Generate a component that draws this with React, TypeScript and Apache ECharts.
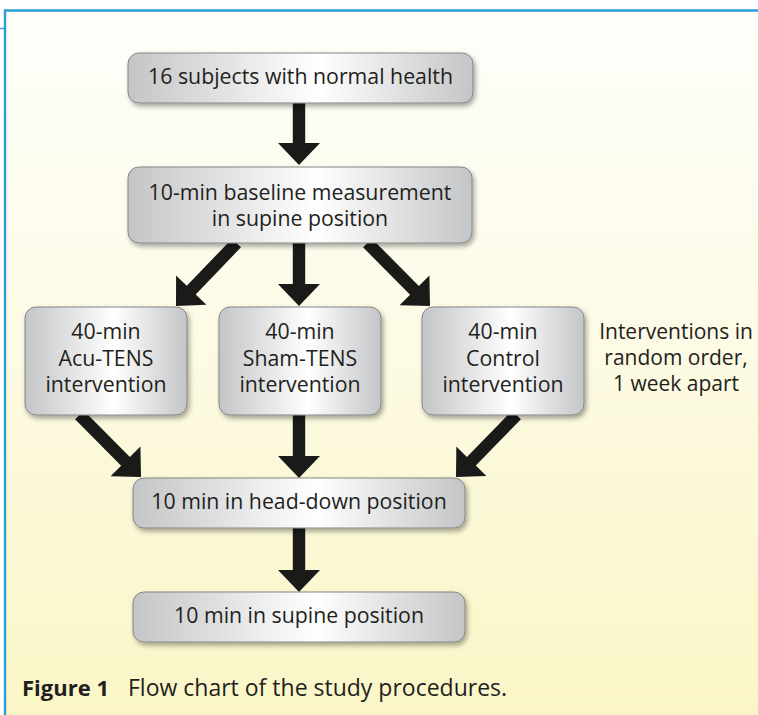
import React, { useEffect, useRef } from "react";
import * as echarts from "echarts";

// ---- content ----
const boxLabels: string[][] = [
  ["16 subjects with normal health"],
  ["10-min baseline measurement", "in supine position"],
  ["40-min", "Acu-TENS", "intervention"],
  ["40-min", "Sham-TENS", "intervention"],
  ["40-min", "Control", "intervention"],
  ["10 min in head-down position"],
  ["10 min in supine position"],
];
const noteLines: string[] = ["Interventions in", "random order,", "1 week apart"];
const captionBold = "Figure 1";
const captionText = "Flow chart of the study procedures.";
// edges: [fromBox, toBox]
const edges: [number, number][] = [
  [0, 1],
  [1, 2],
  [1, 3],
  [1, 4],
  [2, 5],
  [3, 5],
  [4, 5],
  [5, 6],
];

// ---- layout (positions / sizes) ----
const boxRects: [number, number, number, number][] = [
  [128, 53, 345, 50],
  [128, 167, 344, 76],
  [25, 307, 162, 108],
  [219, 307, 162, 108],
  [422, 307, 162, 108],
  [133, 478, 332, 50],
  [133, 592, 332, 50],
];
const textOffsetY: number[] = [-2.5, -0.5, -4, -4, -4, -2.5, -2.5];
// arrow tail & tip points for each edge
const arrowPts: [number, number, number, number][] = [
  [299, 103, 299, 165],
  [236.5, 243, 176, 306],
  [299, 243, 299, 306],
  [367.5, 243, 430, 306],
  [79.5, 415, 141, 477],
  [299, 415, 299, 478],
  [516.5, 415, 456, 477],
  [299, 528, 299, 592],
];

const FONT = "'Open Sans', 'Noto Sans', sans-serif";
const TEXT_COLOR = "#231f20";

function arrowPolygon(x0: number, y0: number, x1: number, y1: number) {
  const dx = x1 - x0;
  const dy = y1 - y0;
  const len = Math.sqrt(dx * dx + dy * dy);
  const ux = dx / len;
  const uy = dy / len;
  const nx = -uy;
  const ny = ux;
  const sw = 6.2;
  const hw = 21;
  const hl = 22;
  const bx = x1 - ux * hl;
  const by = y1 - uy * hl;
  return [
    [x0 + nx * sw, y0 + ny * sw],
    [bx + nx * sw, by + ny * sw],
    [bx + nx * hw, by + ny * hw],
    [x1, y1],
    [bx - nx * hw, by - ny * hw],
    [bx - nx * sw, by - ny * sw],
    [x0 - nx * sw, y0 - ny * sw],
  ];
}

export default function App() {
  const ref = useRef<HTMLDivElement>(null);
  useEffect(() => {
    document.body.style.margin = "0";
    if (!ref.current) return;
    const chart = echarts.init(ref.current, undefined, { renderer: "svg" });
    const elements: any[] = [];

    // background
    elements.push({
      type: "rect",
      shape: { x: 5, y: 11, width: 760, height: 710 },
      style: {
        fill: new echarts.graphic.LinearGradient(0, 0, 0, 1, [
          { offset: 0, color: "#fefefb" },
          { offset: 0.4, color: "#fdfbe8" },
          { offset: 1, color: "#faf6c6" },
        ]),
      },
      silent: true,
    });
    // blue frame
    elements.push({
      type: "line",
      shape: { x1: 4, y1: 10.5, x2: 758, y2: 10.5 },
      style: { stroke: "#2a9fd4", lineWidth: 2.6 },
    });
    elements.push({
      type: "line",
      shape: { x1: 5, y1: 9.5, x2: 5, y2: 715 },
      style: { stroke: "#2a9fd4", lineWidth: 2.4 },
    });
    elements.push({
      type: "line",
      shape: { x1: 0, y1: 28.5, x2: 5, y2: 28.5 },
      style: { stroke: "#2a9fd4", lineWidth: 1.4 },
    });

    // arrows
    edges.forEach((_, i) => {
      const [x0, y0, x1, y1] = arrowPts[i];
      elements.push({
        type: "polygon",
        shape: { points: arrowPolygon(x0, y0, x1, y1) },
        style: { fill: "#1a1a18" },
      });
    });

    // boxes
    boxLabels.forEach((lines, i) => {
      const [x, y, w, h] = boxRects[i];
      elements.push({
        type: "rect",
        shape: { x, y, width: w, height: h, r: 11 },
        style: {
          fill: new echarts.graphic.LinearGradient(0, 0, 1, 0, [
            { offset: 0, color: "#c4c5c7" },
            { offset: 0.55, color: "#ffffff" },
            { offset: 1, color: "#c4c5c7" },
          ]),
          stroke: "#858585",
          lineWidth: 1,
          shadowBlur: 5,
          shadowOffsetX: 2,
          shadowOffsetY: 3,
          shadowColor: "rgba(0,0,0,0.35)",
        },
      });
      elements.push({
        type: "text",
        style: {
          text: lines.join("\n"),
          x: x + w / 2,
          y: y + h / 2 + textOffsetY[i],
          align: "center",
          verticalAlign: "middle",
          fill: TEXT_COLOR,
          fontFamily: FONT,
          fontSize: 21.3,
          lineHeight: 26.8,
        },
      });
    });

    // side note
    elements.push({
      type: "text",
      style: {
        text: noteLines.join("\n"),
        x: 676,
        y: 357,
        align: "center",
        verticalAlign: "middle",
        fill: TEXT_COLOR,
        fontFamily: FONT,
        fontSize: 21,
        lineHeight: 26,
      },
    });

    // caption
    elements.push({
      type: "text",
      style: {
        text: captionBold,
        x: 22,
        y: 687,
        align: "left",
        verticalAlign: "middle",
        fill: TEXT_COLOR,
        fontFamily: FONT,
        fontWeight: "bold",
        fontSize: 22,
      },
    });
    elements.push({
      type: "text",
      style: {
        text: captionText,
        x: 128,
        y: 687,
        align: "left",
        verticalAlign: "middle",
        fill: TEXT_COLOR,
        fontFamily: FONT,
        fontSize: 23,
      },
    });

    chart.setOption({ animation: false, graphic: { elements } });
    return () => chart.dispose();
  }, []);
  return <div ref={ref} style={{ width: 758, height: 715 }} />;
}
